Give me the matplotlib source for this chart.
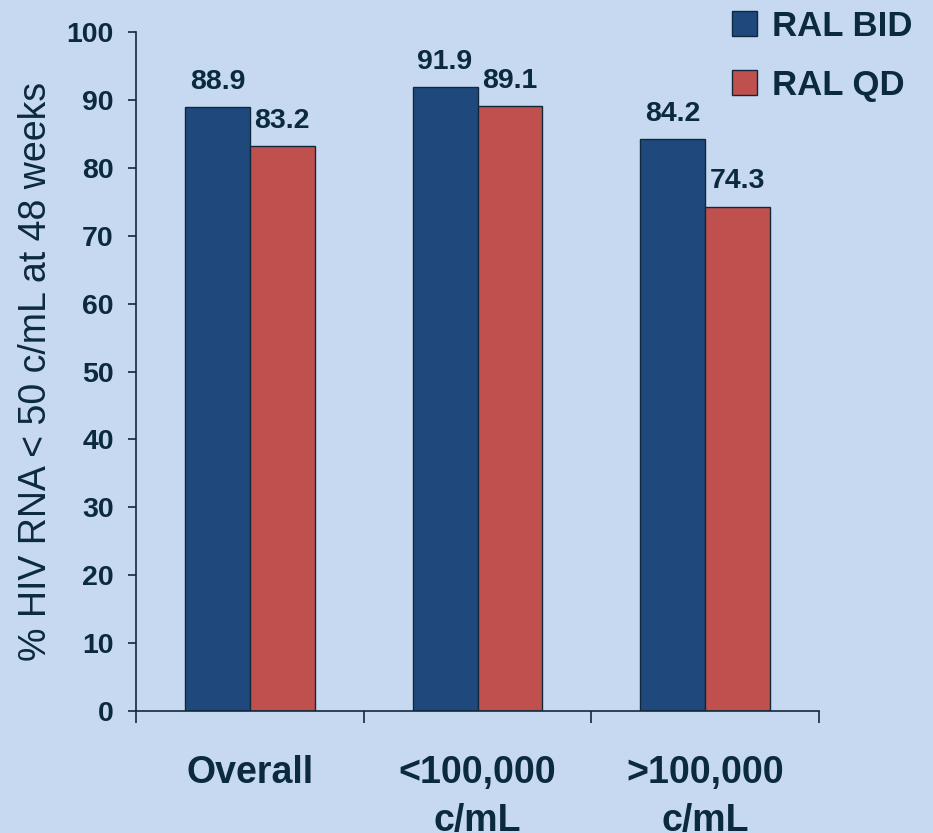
import matplotlib
matplotlib.use("Agg")
import matplotlib.pyplot as plt
from matplotlib.patches import Patch
import numpy as np

categories = ["Overall", "<100,000\nc/mL", ">100,000\nc/mL"]
series_names = ["RAL BID", "RAL QD"]
ral_bid = [88.9, 91.9, 84.2]
ral_qd = [83.2, 89.1, 74.3]
yticks = [0, 10, 20, 30, 40, 50, 60, 70, 80, 90, 100]

BG = "#C6D9F1"
BLUE = "#1F497D"
RED = "#C0504D"
TXT = "#0B2A3B"
EDGE = "#10293A"

plt.rcParams["font.family"] = ["Liberation Sans", "DejaVu Sans"]

fig = plt.figure(figsize=(9.33, 8.33), dpi=100, facecolor=BG)
ax = fig.add_axes([136/933, 1-711/833, (819-136)/933, (711-32)/833])
ax.set_facecolor(BG)

x = np.arange(len(categories))
w = 0.285
b1 = ax.bar(x - w/2, ral_bid, w, color=BLUE, edgecolor=EDGE, linewidth=1)
b2 = ax.bar(x + w/2, ral_qd, w, color=RED, edgecolor=EDGE, linewidth=1)

for bars, vals in ((b1, ral_bid), (b2, ral_qd)):
    for r, v in zip(bars, vals):
        ax.annotate(f"{v:.1f}", (r.get_x() + r.get_width()/2, v),
                    xytext=(0, 13), textcoords="offset points",
                    ha="center", va="baseline", fontsize=20.5,
                    fontweight="bold", color=TXT)

ax.set_xlim(-0.5, len(categories) - 0.5)
ax.set_ylim(0, 100)
ax.set_yticks(yticks)
ax.tick_params(axis="y", direction="out", length=6, width=1.2, color=EDGE,
               pad=10, labelsize=20.5, labelcolor=TXT)
for t in ax.get_yticklabels():
    t.set_fontweight("bold")

ax.set_xticks(x)
ax.set_xticklabels(categories, fontsize=27, fontweight="bold", color=TXT,
                   linespacing=1.4)
ax.tick_params(axis="x", which="major", length=0, pad=32)
ax.set_xticks(np.arange(-0.5, len(categories)), minor=True)
ax.tick_params(axis="x", which="minor", direction="out", length=8.5,
               width=1.2, color=EDGE)

for s in ("top", "right"):
    ax.spines[s].set_visible(False)
for s in ("left", "bottom"):
    ax.spines[s].set_color(EDGE)
    ax.spines[s].set_linewidth(1.2)

ax.set_ylabel("% HIV RNA < 50 c/mL at 48 weeks", fontsize=27, color=TXT,
              labelpad=9)

handles = [Patch(facecolor=BLUE, edgecolor=EDGE, linewidth=1),
           Patch(facecolor=RED, edgecolor=EDGE, linewidth=1)]
leg = fig.legend(handles, series_names, loc="upper right",
                 bbox_to_anchor=(1.0, 1.013), frameon=False,
                 prop={"size": 25, "weight": "bold"},
                 handlelength=0.72, handleheight=0.72, handletextpad=0.42,
                 labelspacing=0.74, borderaxespad=0.2)
for t in leg.get_texts():
    t.set_color(TXT)

fig.savefig("out.png", dpi=100, facecolor=BG)
